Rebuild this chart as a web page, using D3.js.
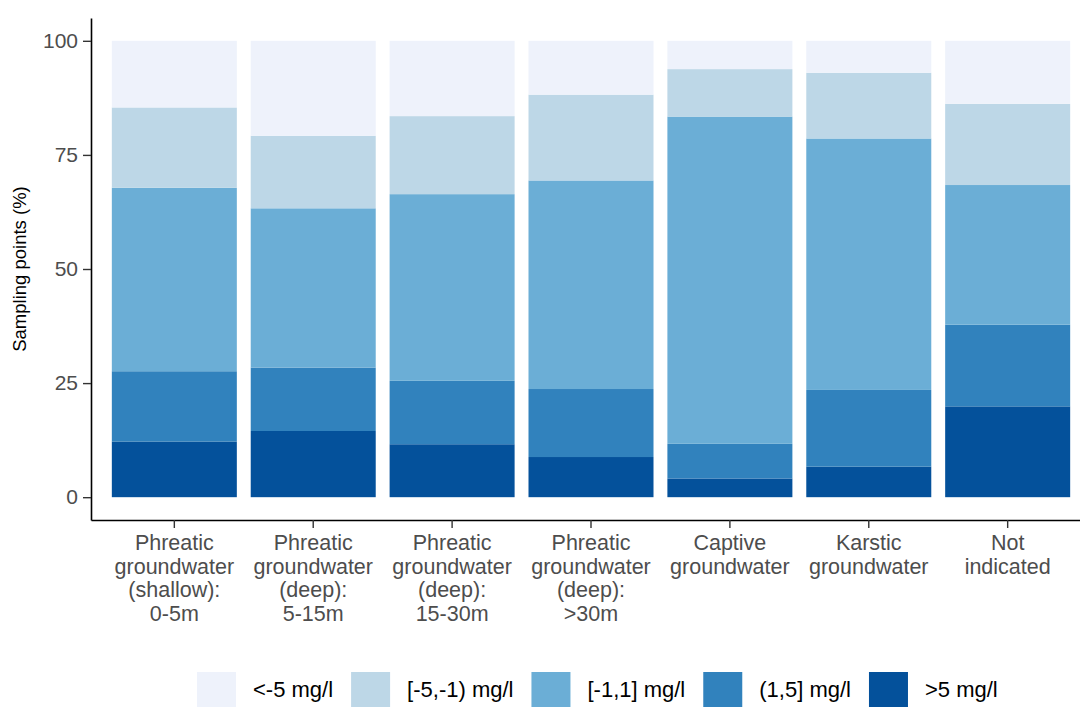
<!DOCTYPE html>
<html>
<head>
<meta charset="utf-8">
<script src="https://cdn.jsdelivr.net/npm/d3@7"></script>
<style>
  body { margin: 0; background: #fff; }
  svg { display: block; font-family: "Liberation Sans", Arial, sans-serif; }
</style>
</head>
<body>
<svg id="chart" width="1080" height="707"></svg>
<script>
// categories (x axis)
const categories = ["shallow_0_5", "deep_5_15", "deep_15_30", "deep_30", "captive", "karstic", "not_indicated"];
const categoryLabels = [
  ["Phreatic", "groundwater", "(shallow):", "0-5m"],
  ["Phreatic", "groundwater", "(deep):", "5-15m"],
  ["Phreatic", "groundwater", "(deep):", "15-30m"],
  ["Phreatic", "groundwater", "(deep):", ">30m"],
  ["Captive", "groundwater"],
  ["Karstic", "groundwater"],
  ["Not", "indicated"]
];

// series, stacked from the bottom up
const seriesNames = [">5 mg/l", "(1,5] mg/l", "[-1,1] mg/l", "[-5,-1) mg/l", "<-5 mg/l"];
const above5   = [12.2, 14.5, 11.6, 8.8, 4.1, 6.7, 19.9];
const from1to5 = [15.4, 13.9, 13.9, 14.9, 7.6, 16.8, 17.9];
const around0  = [40.2, 34.9, 40.9, 45.7, 71.7, 55.1, 30.6];
const fromM5toM1 = [17.6, 15.9, 17.1, 18.8, 10.4, 14.4, 17.8];
const belowM5  = [14.6, 20.8, 16.5, 11.8, 6.2, 7.0, 13.8];
const seriesValues = [above5, from1to5, around0, fromM5toM1, belowM5];

// legend order (left to right)
const legendOrder = ["<-5 mg/l", "[-5,-1) mg/l", "[-1,1] mg/l", "(1,5] mg/l", ">5 mg/l"];
const yTicks = [0, 25, 50, 75, 100];

const colors = {
  "<-5 mg/l": "#eef2fb",
  "[-5,-1) mg/l": "#bdd7e7",
  "[-1,1] mg/l": "#6baed6",
  "(1,5] mg/l": "#3182bd",
  ">5 mg/l": "#04519b"
};

const svg = d3.select("#chart");
const panel = { left: 91, right: 1091, top: 18, bottom: 520 };

// rows for d3.stack
const rows = categories.map((c, i) => {
  const r = { cat: c };
  seriesNames.forEach((s, j) => { r[s] = seriesValues[j][i]; });
  return r;
});
const stacked = d3.stack().keys(seriesNames)(rows);

const x = d3.scaleBand()
  .domain(categories)
  .range([panel.left, panel.right])
  .paddingInner(0.1)
  .paddingOuter(0.15);

const y = d3.scaleLinear()
  .domain([-5, 105])
  .range([panel.bottom, panel.top]);

// bars
svg.append("g")
  .selectAll("g")
  .data(stacked)
  .join("g")
  .attr("fill", d => colors[d.key])
  .selectAll("rect")
  .data(d => d)
  .join("rect")
  .attr("x", d => x(d.data.cat))
  .attr("width", x.bandwidth())
  .attr("y", d => y(d[1]))
  .attr("height", d => y(d[0]) - y(d[1]));

// y axis
const yAxis = svg.append("g")
  .attr("transform", `translate(${panel.left},0)`)
  .call(d3.axisLeft(y).tickValues(yTicks).tickSize(8).tickSizeOuter(0).tickPadding(5));
yAxis.select(".domain").attr("stroke", "#000").attr("stroke-width", 1.6);
yAxis.selectAll(".tick line").attr("stroke", "#333").attr("stroke-width", 1.4);
yAxis.selectAll(".tick text")
  .attr("fill", "#4d4d4d")
  .style("font-size", "21px");

// x axis
const xAxis = svg.append("g")
  .attr("transform", `translate(0,${panel.bottom})`)
  .call(d3.axisBottom(x).tickSize(8).tickSizeOuter(0).tickFormat(""));
xAxis.select(".domain").attr("stroke", "#000").attr("stroke-width", 1.6);
xAxis.selectAll(".tick line").attr("stroke", "#333").attr("stroke-width", 1.4);

const labelG = svg.append("g");
categories.forEach((c, i) => {
  const cx = x(c) + x.bandwidth() / 2;
  const t = labelG.append("text")
    .attr("text-anchor", "middle")
    .attr("fill", "#4d4d4d")
    .style("font-size", "21.5px");
  categoryLabels[i].forEach((line, k) => {
    t.append("tspan")
      .attr("x", cx)
      .attr("y", 550 + k * 23.5)
      .text(line);
  });
});

// y title
svg.append("text")
  .attr("transform", `translate(26,${(y(0) + y(100)) / 2}) rotate(-90)`)
  .attr("text-anchor", "middle")
  .attr("fill", "#000")
  .style("font-size", "18.5px")
  .text("Sampling points (%)");

// legend
const legend = svg.append("g");
let lx = 197;
legendOrder.forEach(name => {
  legend.append("rect")
    .attr("x", lx)
    .attr("y", 672)
    .attr("width", 39)
    .attr("height", 39)
    .attr("fill", colors[name]);
  const txt = legend.append("text")
    .attr("x", lx + 39 + 17)
    .attr("y", 697)
    .attr("fill", "#000")
    .style("font-size", "22px")
    .text(name);
  lx += 39 + 17 + txt.node().getComputedTextLength() + 18;
});
</script>
</body>
</html>
